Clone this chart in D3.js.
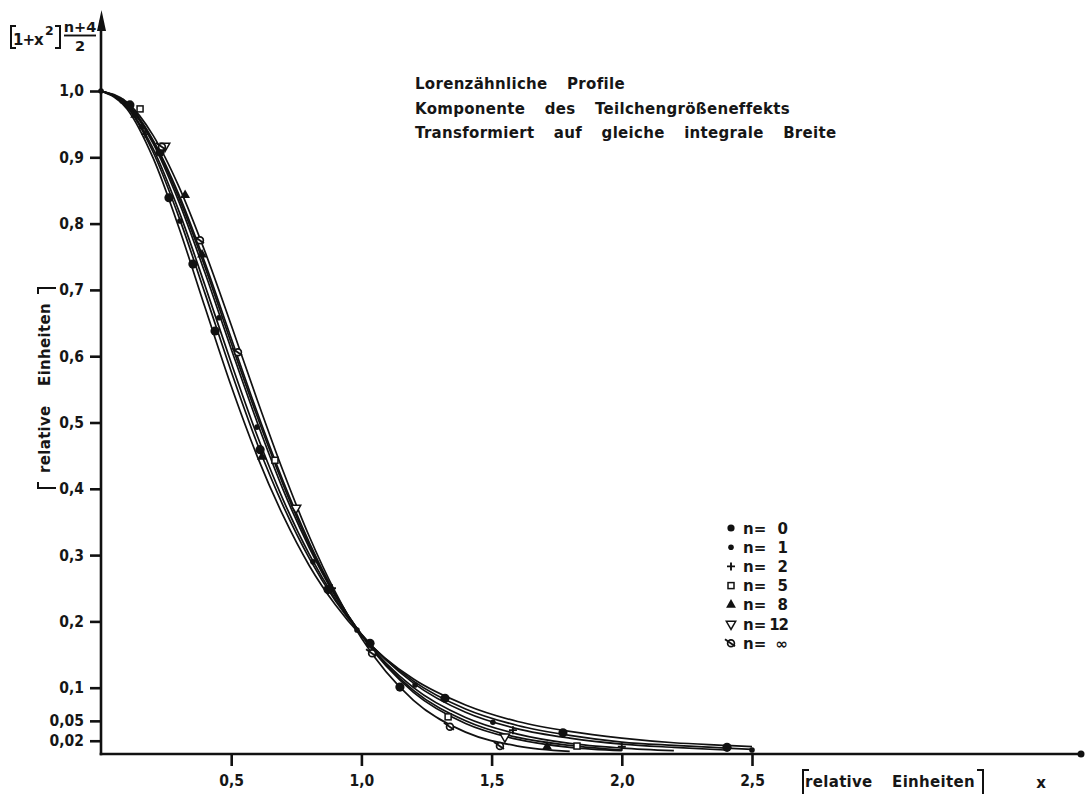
<!DOCTYPE html>
<html>
<head>
<meta charset="utf-8">
<script src="https://cdn.jsdelivr.net/npm/d3@7"></script>
<style>
  html, body { margin: 0; padding: 0; background: #fff; }
  svg { display: block; }
  text { font-family: "DejaVu Sans", sans-serif; font-weight: bold; fill: #161616; }
  .tick text { font-family: "DejaVu Sans Condensed", "DejaVu Sans", sans-serif; font-stretch: condensed; font-weight: bold; }
</style>
</head>
<body>
<svg id="chart" width="1085" height="798"></svg>
<script>
// values

const xSamples = [0, 0.1, 0.2, 0.3, 0.4, 0.5, 0.6, 0.7, 0.8, 0.9, 1.0, 1.2, 1.4, 1.6, 1.8, 2.0, 2.2, 2.4, 2.5];

const curveN0   = [1, 0.973, 0.899, 0.793, 0.673, 0.555, 0.449, 0.359, 0.284, 0.225, 0.178, 0.113, 0.074, 0.049, 0.034, 0.024, 0.017, 0.013, 0.011];
const curveN1   = [1, 0.976, 0.908, 0.809, 0.694, 0.577, 0.468, 0.374, 0.295, 0.231, 0.180, 0.110, 0.068, 0.043, 0.028, 0.018, 0.013, 0.009, 0.007];
const curveN2   = [1, 0.977, 0.913, 0.818, 0.706, 0.590, 0.480, 0.383, 0.301, 0.234, 0.181, 0.107, 0.063, 0.038, 0.024, 0.015, 0.010, 0.006];
const curveN5   = [1, 0.979, 0.921, 0.832, 0.725, 0.611, 0.500, 0.398, 0.311, 0.238, 0.180, 0.100, 0.055, 0.030, 0.016, 0.009, 0.005];
const curveN8   = [1, 0.980, 0.924, 0.838, 0.734, 0.620, 0.509, 0.406, 0.315, 0.240, 0.180, 0.096, 0.050, 0.025, 0.013, 0.006];
const curveN12  = [1, 0.981, 0.926, 0.843, 0.740, 0.627, 0.515, 0.411, 0.319, 0.241, 0.179, 0.093, 0.046, 0.022, 0.010, 0.005];
const curveNinf = [1, 0.983, 0.933, 0.855, 0.757, 0.647, 0.534, 0.426, 0.328, 0.244, 0.175, 0.081, 0.033, 0.012, 0.004];

// measured points per series: [x, y]
const pointsN0   = [[0.111, 0.979], [0.227, 0.908], [0.261, 0.839], [0.353, 0.739], [0.438, 0.638], [0.611, 0.459], [0.872, 0.248], [1.033, 0.167], [1.148, 0.101], [1.321, 0.084], [1.774, 0.032], [2.404, 0.010]];
const pointsN1   = [[0, 1.0], [0.081, 0.985], [0.157, 0.946], [0.303, 0.804], [0.453, 0.658], [0.599, 0.493], [0.814, 0.290], [0.983, 0.187], [1.206, 0.104], [1.505, 0.048], [2.5, 0.006]];
const pointsN2   = [[0.17, 0.935], [0.887, 0.250], [1.582, 0.036], [2.0, 0.011]];
const pointsN5   = [[0.150, 0.973], [0.668, 0.443], [1.333, 0.056], [1.828, 0.012]];
const pointsN8   = [[0.131, 0.964], [0.323, 0.843], [0.388, 0.753], [0.618, 0.448], [1.713, 0.011]];
const pointsN12  = [[0.246, 0.917], [0.749, 0.371], [1.551, 0.026]];
const pointsNinf = [[0.234, 0.916], [0.380, 0.775], [0.526, 0.606], [1.041, 0.152], [1.340, 0.041], [1.532, 0.012]];

const seriesNames = ["0", "1", "2", "5", "8", "12", "\u221e"];
const seriesSymbols = ["bigdot", "dot", "plus", "square", "triangle", "tridown", "inf"];

const yTickValues = [0.02, 0.05, 0.1, 0.2, 0.3, 0.4, 0.5, 0.6, 0.7, 0.8, 0.9, 1.0];
const yTickLabels = ["0,02", "0,05", "0,1", "0,2", "0,3", "0,4", "0,5", "0,6", "0,7", "0,8", "0,9", "1,0"];
const xTickValues = [0.5, 1.0, 1.5, 2.0, 2.5];
const xTickLabels = ["0,5", "1,0", "1,5", "2,0", "2,5"];

const titleLines = ["Lorenzähnliche Profile", "Komponente des Teilchengrößeneffekts", "Transformiert auf gleiche integrale Breite"];

const svg = d3.select("#chart");

const x = d3.scaleLinear().domain([0, 2.5]).range([101, 752]);
const y = d3.scaleLinear().domain([0, 1]).range([754, 91]);

// axes

let yAxis = d3.axisLeft(y)
    .tickValues(yTickValues)
    .tickFormat((d, i) => yTickLabels[i])
    .tickSize(11)
    .tickPadding(6);

let gy = svg.append("g")
    .attr("transform", `translate(${x(0)},0)`)
    .call(yAxis);
gy.select(".domain").remove();
gy.selectAll("line").attr("stroke", "#111").attr("stroke-width", 2.6);
gy.selectAll("text").style("font-size", "15.5px").attr("fill", "#161616").attr("font-family", null);

let xAxis = d3.axisBottom(x)
    .tickValues(xTickValues)
    .tickFormat((d, i) => xTickLabels[i])
    .tickSize(12)
    .tickPadding(9);

let gx = svg.append("g")
    .attr("transform", `translate(0,${y(0)})`)
    .call(xAxis);
gx.select(".domain").remove();
gx.selectAll("line").attr("stroke", "#111").attr("stroke-width", 2.6);
gx.selectAll("text").style("font-size", "15.5px").attr("fill", "#161616").attr("font-family", null);

// axis lines with arrow head / end dot
svg.append("line")
    .attr("x1", x(0)).attr("y1", y(0) + 1.3)
    .attr("x2", x(0)).attr("y2", 20)
    .attr("stroke", "#111").attr("stroke-width", 2.6);
svg.append("path")
    .attr("d", `M${x(0) + 0.5},10 L${x(0) - 4},31 L${x(0) + 5},31 Z`)
    .attr("fill", "#111");

svg.append("line")
    .attr("x1", x(0) - 1.3).attr("y1", y(0))
    .attr("x2", 1081).attr("y2", y(0))
    .attr("stroke", "#111").attr("stroke-width", 2.6);
svg.append("circle")
    .attr("cx", 1081).attr("cy", y(0)).attr("r", 3.5).attr("fill", "#111");

// curves

let curves = [curveN0, curveN1, curveN2, curveN5, curveN8, curveN12, curveNinf];

let line = d3.line()
    .x(d => x(d[0]))
    .y(d => y(d[1]))
    .curve(d3.curveMonotoneX);

svg.append("g").attr("class", "curves")
    .selectAll("path")
    .data(curves)
    .enter()
    .append("path")
    .attr("d", c => line(c.map((v, i) => [xSamples[i], v])))
    .attr("fill", "none")
    .attr("stroke", "#111")
    .attr("stroke-width", 1.7);

// markers

let drawSymbol = (g, kind) => {
    if (kind == "bigdot") {
        g.append("circle").attr("r", 4.6).attr("fill", "#111");
    } else if (kind == "legdot") {
        g.append("circle").attr("r", 3.6).attr("fill", "#111");
    } else if (kind == "dot") {
        g.append("circle").attr("r", 2.8).attr("fill", "#111");
    } else if (kind == "plus") {
        g.append("path").attr("d", "M-4,0H4M0,-4V4").attr("stroke", "#111").attr("stroke-width", 1.9);
    } else if (kind == "square") {
        g.append("rect").attr("x", -3).attr("y", -3).attr("width", 6).attr("height", 6)
            .attr("fill", "#fff").attr("stroke", "#111").attr("stroke-width", 1.5);
    } else if (kind == "triangle") {
        g.append("path").attr("d", d3.symbol(d3.symbolTriangle, 42)()).attr("fill", "#111");
    } else if (kind == "tridown") {
        g.append("path").attr("d", d3.symbol(d3.symbolTriangle, 38)())
            .attr("transform", "rotate(180)")
            .attr("fill", "#fff").attr("stroke", "#111").attr("stroke-width", 1.5);
    } else if (kind == "inf") {
        g.append("circle").attr("r", 3.4).attr("fill", "#fff").attr("stroke", "#111").attr("stroke-width", 1.7);
        g.append("path").attr("d", "M-6,-4L4,3").attr("stroke", "#111").attr("stroke-width", 1.9);
    }
};

let pointSets = [pointsN0, pointsN1, pointsN2, pointsN5, pointsN8, pointsN12, pointsNinf];

pointSets.forEach((pts, si) => {
    let g = svg.append("g").attr("class", "points-" + si);
    g.selectAll("g")
        .data(pts)
        .enter()
        .append("g")
        .attr("transform", d => `translate(${x(d[0])},${y(d[1])})`)
        .each(function() { drawSymbol(d3.select(this), seriesSymbols[si]); });
});

// legend

let legend = svg.append("g").attr("transform", "translate(731,528)");
seriesNames.forEach((name, i) => {
    let row = legend.append("g").attr("transform", `translate(0,${i * 19.2})`);
    drawSymbol(row.append("g"), seriesSymbols[i] == "bigdot" ? "legdot" : seriesSymbols[i]);
    row.append("text")
        .attr("x", 12).attr("y", 5.5)
        .style("font-size", "15px")
        .text("n=");
    row.append("text")
        .attr("x", 57).attr("y", 5.5)
        .attr("text-anchor", "end")
        .style("font-size", "15px")
        .style("letter-spacing", name == "12" ? "-1px" : null)
        .text(name);
});

// title block

svg.append("g").attr("class", "title")
    .selectAll("text")
    .data(titleLines)
    .enter()
    .append("text")
    .attr("x", 415)
    .attr("y", (d, i) => 89 + i * 24.5)
    .style("font-size", "15px")
    .style("letter-spacing", "0.3px")
    .style("word-spacing", "14px")
    .text(d => d);

// y label at the top: [1+x^2] (n+4)/2

let ylab = svg.append("g").attr("class", "ylabel");
ylab.append("path")
    .attr("d", "M16,26 H11 V48 H16 M55,26 H60 V48 H55")
    .attr("fill", "none").attr("stroke", "#111").attr("stroke-width", 2);
ylab.append("text").attr("x", 13).attr("y", 45).style("font-size", "15px").style("letter-spacing", "-1px").text("1+x");
ylab.append("text").attr("x", 45).attr("y", 35).style("font-size", "12.5px").text("2");
ylab.append("text").attr("x", 80).attr("y", 32).attr("text-anchor", "middle").style("font-size", "14.5px").text("n+4");
ylab.append("line").attr("x1", 64).attr("x2", 96).attr("y1", 35.5).attr("y2", 35.5)
    .attr("stroke", "#111").attr("stroke-width", 1.9);
ylab.append("text").attr("x", 80).attr("y", 51).attr("text-anchor", "middle").style("font-size", "14.5px").text("2");

// rotated unit label on the y side
let yunit = svg.append("g").attr("transform", "translate(50,388) rotate(-90)");
yunit.append("text")
    .attr("text-anchor", "middle")
    .style("font-size", "15px")
    .style("letter-spacing", "0.3px")
    .style("word-spacing", "14px")
    .text("relative Einheiten");
yunit.append("path")
    .attr("d", "M-94,-12 H-100 V6 M94,-12 H100 V6")
    .attr("fill", "none").attr("stroke", "#111").attr("stroke-width", 2);

// unit label on the x side
let xunit = svg.append("g").attr("transform", "translate(890,787)");
xunit.append("text")
    .attr("text-anchor", "middle")
    .style("font-size", "15px")
    .style("letter-spacing", "0.3px")
    .style("word-spacing", "14px")
    .text("relative Einheiten");
xunit.append("path")
    .attr("d", "M-87,7 V-17 H-81 M93,7 V-17 H87")
    .attr("fill", "none").attr("stroke", "#111").attr("stroke-width", 2);

svg.append("text")
    .attr("x", 1041).attr("y", 788)
    .attr("text-anchor", "middle")
    .style("font-size", "15px")
    .text("x");
</script>
</body>
</html>
